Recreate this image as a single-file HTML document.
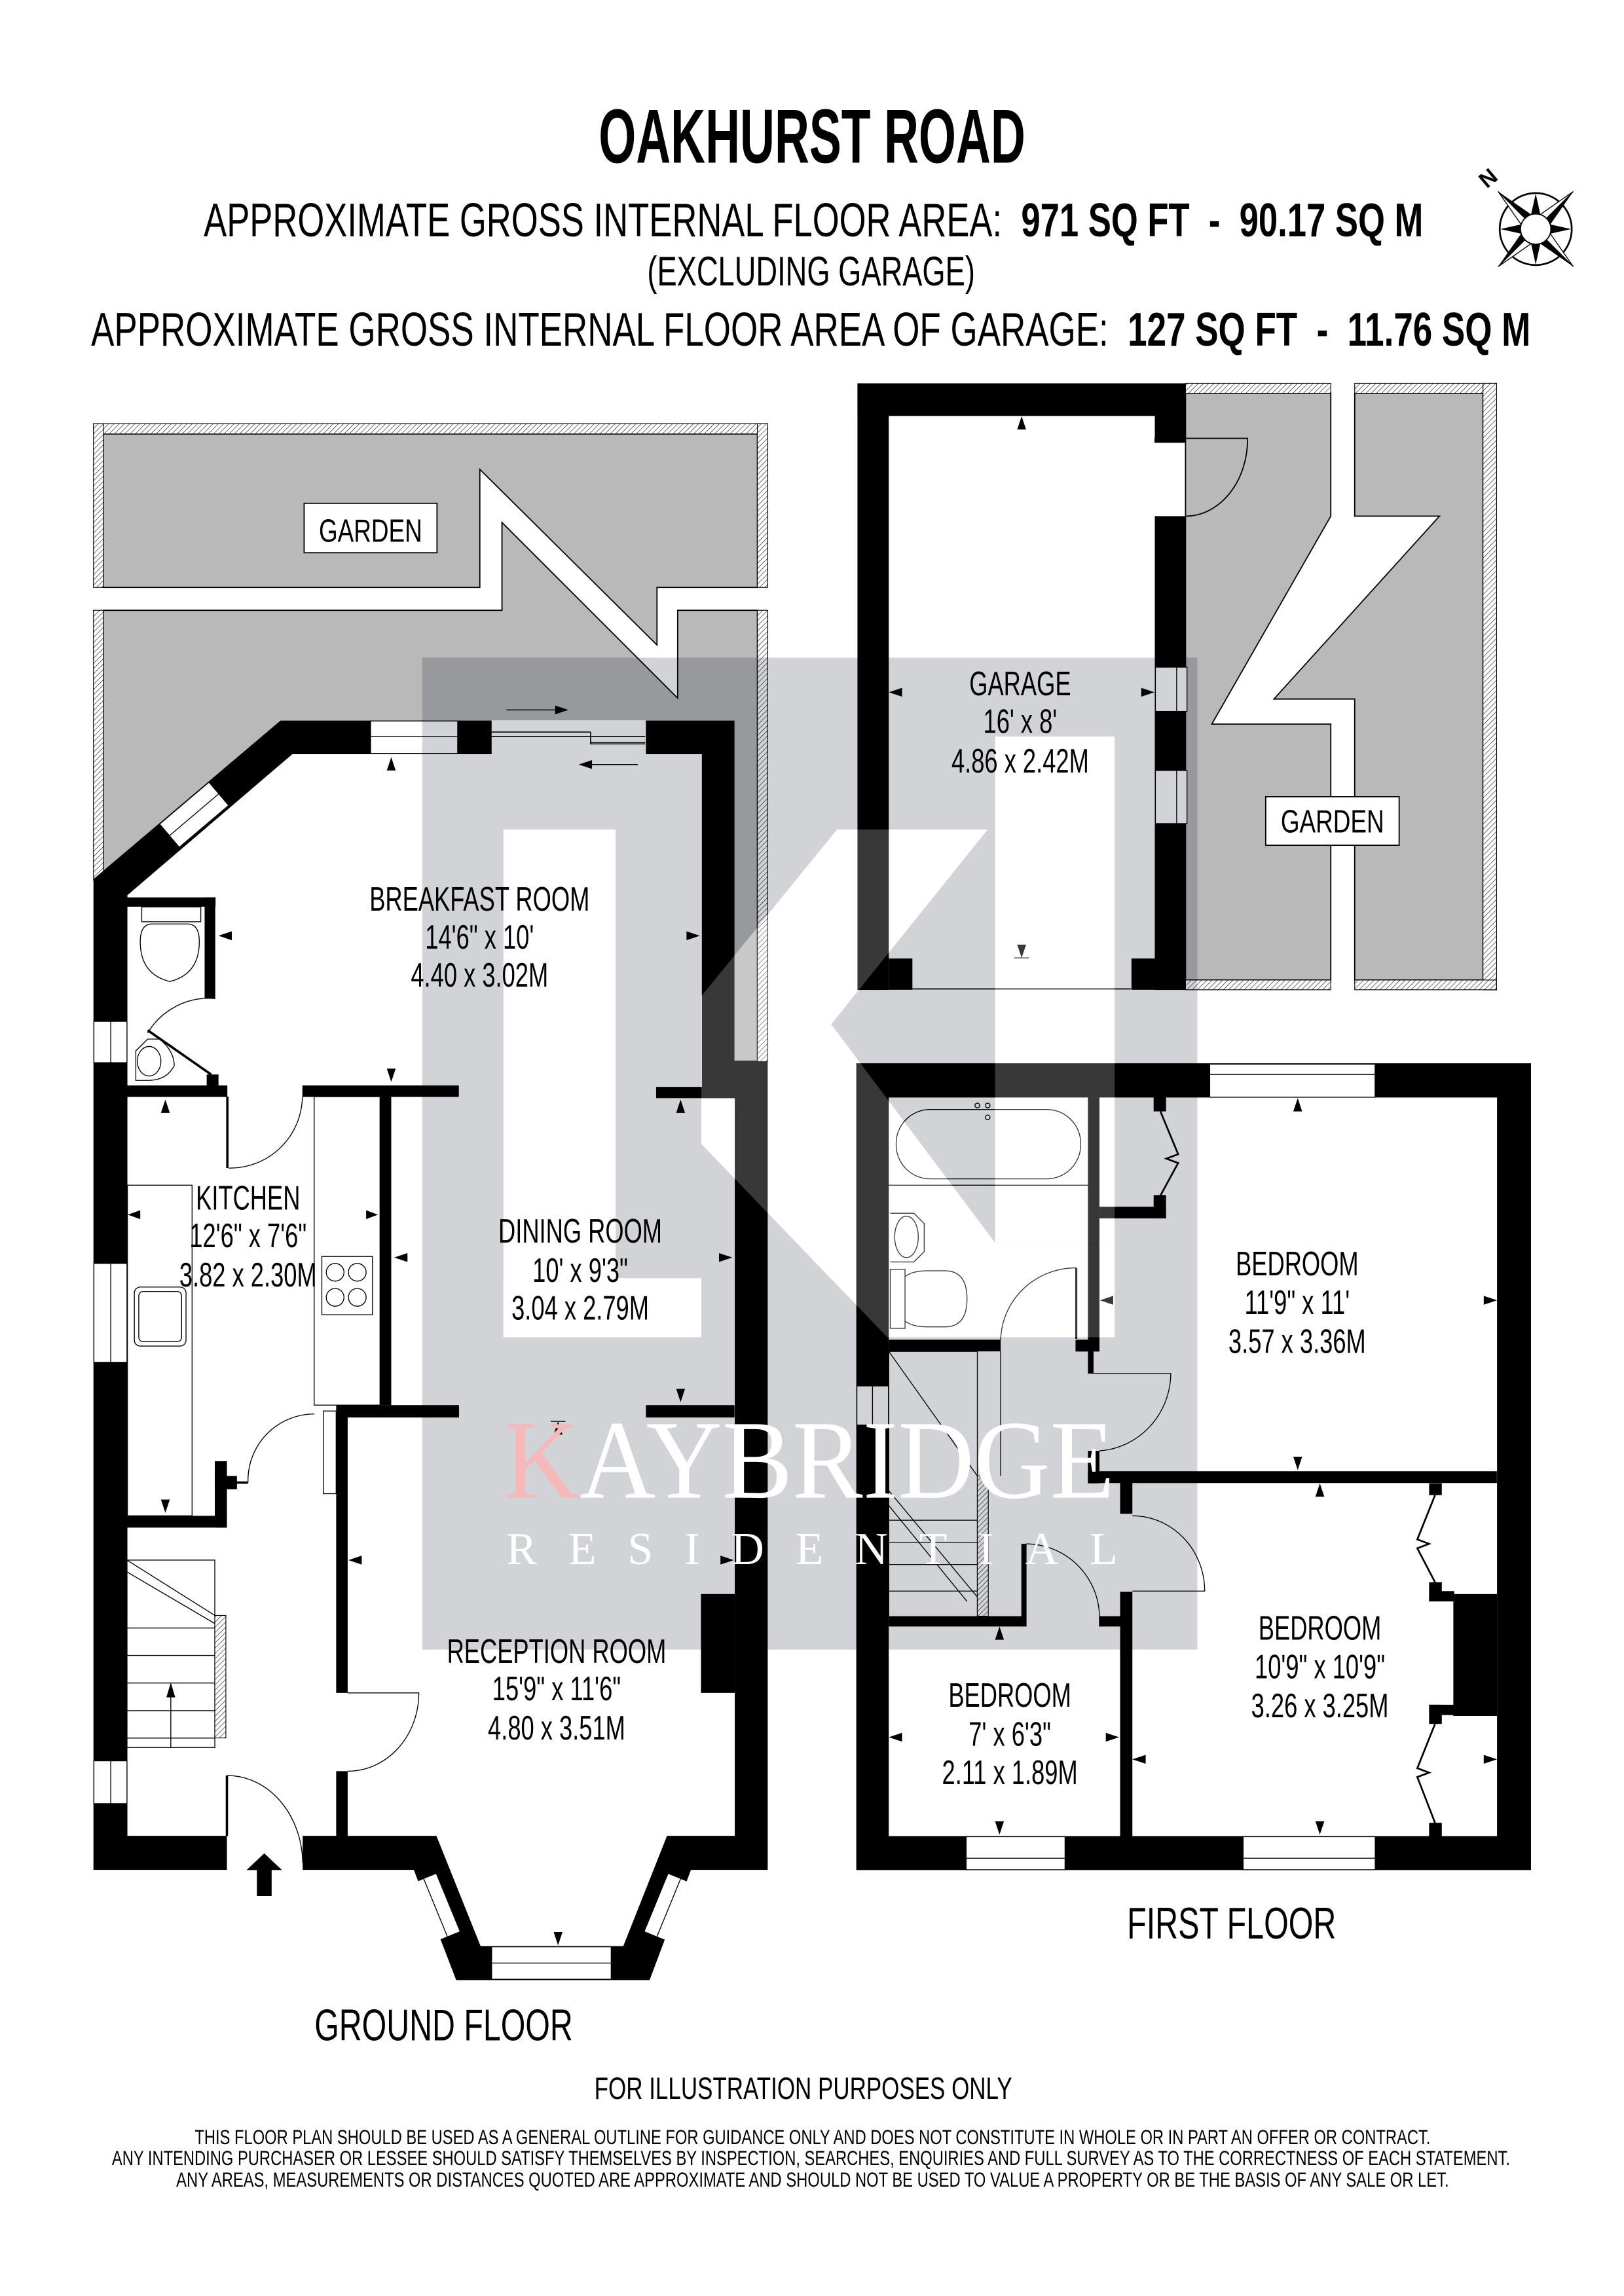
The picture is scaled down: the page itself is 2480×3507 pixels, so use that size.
<!DOCTYPE html>
<html><head><meta charset="utf-8"><style>
html,body{margin:0;padding:0;background:#fff}
svg{display:block}
text{font-family:"Liberation Sans",Arial,sans-serif;fill:#000}
.r{font-size:23px;text-anchor:middle}
</style></head><body>
<svg width="2480" height="3507" viewBox="0 0 1100 1555.6" preserveAspectRatio="none" xmlns="http://www.w3.org/2000/svg">
<defs>
<pattern id="h" width="2.5" height="2.5" patternUnits="userSpaceOnUse" patternTransform="rotate(45)">
<rect width="2.5" height="2.5" fill="#fff"/><line x1="0" y1="0" x2="0" y2="2.5" stroke="#000" stroke-width="0.5"/></pattern>
<mask id="km"><rect x="0" y="0" width="1100" height="1556" fill="#fff"/>
<g fill="#000">
<rect x="341" y="562" width="76" height="344"/><rect x="341" y="866" width="134" height="40"/>
<polygon points="475,675 567,562 669,562 563,694 475,775"/>
<polygon points="475,775 563,694 674,842 755,842 755,906 601,906"/>
<rect x="674" y="499" width="81" height="343"/>
</g></mask>
</defs>
<rect width="1100" height="1556" fill="#fff"/>

<!-- Ground gardens -->
<polygon points="70,294 513,294 513,398 445,398 445,437 325,318 325,398 70,398" fill="#b9b9b9" stroke="#000" stroke-width="0.8"/>
<polygon points="70,413.5 340,413.5 340,354 459,473 459,413.5 513,413.5 513,719 70,719" fill="#b9b9b9" stroke="#000" stroke-width="0.8"/>
<g fill="url(#h)" stroke="#000" stroke-width="0.5">
<rect x="63.3" y="287" width="456.7" height="7"/><rect x="63.3" y="287" width="6.8" height="111"/><rect x="513" y="287" width="7" height="111"/>
<rect x="63.3" y="413.5" width="6.8" height="183"/><rect x="513" y="413.5" width="7" height="306"/>
</g>
<rect x="206" y="341" width="90" height="33.5" fill="#fff" stroke="#000" stroke-width="0.8"/>
<text x="251" y="367" font-size="22" text-anchor="middle" textLength="70" lengthAdjust="spacingAndGlyphs">GARDEN</text>

<!-- Garage gardens -->
<polygon points="803,266.5 901.4,266.5 901.4,349.7 820.8,490.6 901.4,490.6 901.4,664 803,664" fill="#b9b9b9" stroke="#000" stroke-width="0.8"/>
<polygon points="917.6,266.5 1004.5,266.5 1004.5,664 917.6,664 917.6,473.6 862.9,473.6 975,349.7 917.6,349.7" fill="#b9b9b9" stroke="#000" stroke-width="0.8"/>
<g fill="url(#h)" stroke="#000" stroke-width="0.5">
<rect x="803" y="259.7" width="98.4" height="6.8"/><rect x="917.6" y="259.7" width="96" height="6.8"/>
<rect x="1004.5" y="259.7" width="9.2" height="411"/>
<rect x="803" y="664" width="98.4" height="6.6"/><rect x="917.6" y="664" width="96" height="6.6"/>
</g>
<rect x="857.3" y="539.8" width="90.4" height="32.9" fill="#fff" stroke="#000" stroke-width="0.8"/>
<text x="902.5" y="564" font-size="22" text-anchor="middle" textLength="70" lengthAdjust="spacingAndGlyphs">GARDEN</text>

<!-- Ground floor building -->
<path d="M63.3,595.6 L190,488.2 L497.5,488.2 L497.5,719 L520,719 L520,1266.9 L468,1266.9 L440,1341.6 L309,1341.6 L280.3,1266.9 L63.3,1266.9 Z" fill="#fff"/>
<path fill="#000" fill-rule="evenodd" d="M63.3,595.6 L190,488.2 L497.5,488.2 L497.5,719 L520,719 L520,1266.9 L468,1266.9 L440,1341.6 L309,1341.6 L280.3,1266.9 L63.3,1266.9 Z M86.3,606.5 L198,511 L475.4,511 L475.4,744 L497.7,744 L497.7,1243.8 L451.8,1243.8 L422.2,1318.5 L325.5,1318.5 L295.6,1243.8 L86.3,1243.8 Z"/>
<g fill="#fff" stroke="#000" stroke-width="0.6">
<rect x="251" y="488.5" width="59" height="22"/>
<rect x="63.6" y="692" width="22.4" height="28"/>
<rect x="63.6" y="856" width="22.4" height="67"/>
<rect x="63.6" y="1193" width="22.4" height="29"/>
<rect x="333" y="1319" width="81" height="22"/>
</g>
<line x1="251" y1="499" x2="310" y2="499" stroke="#000" stroke-width="0.6"/>
<line x1="75" y1="692" x2="75" y2="720" stroke="#000" stroke-width="0.6"/>
<line x1="75" y1="856" x2="75" y2="923" stroke="#000" stroke-width="0.6"/>
<line x1="75" y1="1193" x2="75" y2="1222" stroke="#000" stroke-width="0.6"/>
<line x1="333" y1="1330" x2="414" y2="1330" stroke="#000" stroke-width="0.6"/>
<line x1="115" y1="566" x2="148" y2="538" stroke="#fff" stroke-width="20"/>
<line x1="115" y1="566" x2="148" y2="538" stroke="#000" stroke-width="0.6"/>
<line x1="287" y1="1273" x2="303" y2="1312" stroke="#fff" stroke-width="18"/>
<line x1="287" y1="1273" x2="303" y2="1312" stroke="#000" stroke-width="0.6"/>
<line x1="461" y1="1273" x2="445" y2="1312" stroke="#fff" stroke-width="18"/>
<line x1="461" y1="1273" x2="445" y2="1312" stroke="#000" stroke-width="0.6"/>
<rect x="333" y="488" width="104.5" height="23.5" fill="#fff"/>
<g stroke="#000" stroke-width="0.7" fill="none">
<polyline points="333,496 400,496 400,504 437,504"/><line x1="333" y1="499" x2="437" y2="499"/><line x1="400" y1="503" x2="437" y2="503"/>
<line x1="343" y1="481" x2="378" y2="481"/><line x1="400" y1="518" x2="432" y2="518"/>
</g>
<polygon points="385,481 376,478 376,484" fill="#000"/><polygon points="392,518 401,515 401,521" fill="#000"/>
<rect x="153.7" y="1243" width="51.3" height="25" fill="#fff"/>
<g fill="#000">
<rect x="86" y="608" width="60" height="6.3"/><rect x="138.6" y="608" width="7.2" height="68.6"/>
<rect x="86" y="735.4" width="68" height="7.8"/><rect x="204.8" y="735.4" width="106" height="7.8"/><rect x="444.4" y="736.4" width="53.4" height="7.6"/>
<rect x="257.4" y="743" width="7.6" height="209"/>
<rect x="227.7" y="952" width="83.2" height="8.4"/><rect x="437.5" y="952" width="60" height="8.4"/>
<rect x="86" y="1027" width="67.7" height="8"/><rect x="145.5" y="990" width="8.2" height="45"/>
<rect x="145.5" y="1000" width="15" height="9"/>
<rect x="227.7" y="956" width="7.8" height="191"/><rect x="227.7" y="1200" width="7.8" height="44"/>
<rect x="219" y="956" width="8.7" height="56" fill="#fff" stroke="#000" stroke-width="0.6"/>
<rect x="474.8" y="1080" width="23" height="67"/>
<rect x="140" y="728" width="8" height="8"/>
</g>
<g fill="none" stroke="#000" stroke-width="0.6">
<rect x="96" y="614.5" width="40" height="10"/>
<path d="M103,626 q-8,0 -8,12 q0,22 20,27 q20,-5 20,-27 q0,-12 -8,-12 z"/>
<path d="M92,712 l8,-8 h8 q10,8 10,18 q-5,10 -18,10 h-8z"/><ellipse cx="101" cy="719" rx="8" ry="10"/>
<path d="M145.8,676.6 A 48 48 0 0 0 100,700"/>
<line x1="100" y1="698" x2="143" y2="728" stroke-width="1.6"/>
<rect x="86.3" y="803" width="43.8" height="224"/>
<rect x="91" y="872" width="35" height="40" rx="4"/><rect x="94" y="875" width="29" height="34" rx="3"/>
<rect x="212.8" y="743" width="44.6" height="209"/>
<rect x="218" y="851.3" width="34.3" height="39.5"/>
<circle cx="227" cy="862" r="6"/><circle cx="242" cy="862" r="6"/><circle cx="227" cy="879" r="6"/><circle cx="242" cy="879" r="6"/>
<path d="M155,791.4 A 49 49 0 0 0 204.8,743"/><line x1="154" y1="743" x2="154" y2="791.4" stroke-width="1.6"/>
<path d="M168,1004.5 A 45 45 0 0 1 213,958"/><line x1="160" y1="1004.5" x2="168" y2="1004.5" stroke-width="1.6"/>
<path d="M235.5,1147 L283.7,1147 A 48 53 0 0 1 235.5,1200"/>
<path d="M153.7,1203 A 51 60 0 0 1 205,1262"/><line x1="153.7" y1="1203" x2="153.7" y2="1244" stroke-width="1.6"/>
<rect x="86" y="1057" width="59.5" height="127"/>
<line x1="86" y1="1057" x2="145.5" y2="1094.5"/><line x1="86" y1="1065" x2="145.5" y2="1100"/>
<line x1="86" y1="1103" x2="145.5" y2="1103"/><line x1="86" y1="1121.6" x2="145.5" y2="1121.6"/><line x1="86" y1="1140.3" x2="145.5" y2="1140.3"/><line x1="86" y1="1159" x2="145.5" y2="1159"/><line x1="86" y1="1177.6" x2="145.5" y2="1177.6"/>
<line x1="115.7" y1="1184" x2="115.7" y2="1142"/>
</g>
<rect x="145.5" y="1094.5" width="7.5" height="83" fill="url(#h)" stroke="#000" stroke-width="0.5"/>
<polygon points="115.7,1140 112.7,1150 118.7,1150" fill="#000"/>
<polygon points="179,1255.7 167,1267 174,1267 174,1284.6 184,1284.6 184,1267 191,1267" fill="#000"/>

<!-- Garage -->
<rect x="602" y="281.8" width="180.2" height="388.8" fill="#fff"/>
<g fill="#000">
<rect x="580.8" y="259.7" width="21.2" height="411"/><rect x="580.8" y="259.7" width="222.4" height="22.1"/>
<rect x="782.2" y="259.7" width="21" height="37.3"/><rect x="782.2" y="349.7" width="21" height="321"/>
<rect x="602" y="649.4" width="16" height="21.2"/><rect x="766.4" y="649.4" width="16" height="21.2"/>
</g>
<g fill="#fff" stroke="#000" stroke-width="0.6"><rect x="782.6" y="452" width="21.4" height="30"/><rect x="782.6" y="522" width="21.4" height="36"/></g>
<line x1="797" y1="452" x2="797" y2="482" stroke="#000" stroke-width="0.6"/><line x1="797" y1="522" x2="797" y2="558" stroke="#000" stroke-width="0.6"/>
<line x1="618" y1="670" x2="766" y2="670" stroke="#000" stroke-width="0.8"/>
<path d="M782,297 L845,297 A 42 52 0 0 1 803,349.7" fill="none" stroke="#000" stroke-width="0.8"/>
<rect x="782" y="297" width="21" height="3" fill="#000"/>

<!-- First floor -->
<path fill="#000" fill-rule="evenodd" d="M580,720.4 H1037 V1267 H580 Z M602,743.6 V1244 H1014 V743.6 Z"/>
<g fill="#fff" stroke="#000" stroke-width="0.6">
<rect x="819.4" y="721" width="112" height="22.4"/>
<rect x="654.4" y="1244.4" width="67" height="22.4"/>
<rect x="842" y="1244.4" width="89.5" height="22.4"/>
<rect x="580.4" y="939" width="21.4" height="26.5"/>
</g>
<g stroke="#000" stroke-width="0.6">
<line x1="819.4" y1="728" x2="931.4" y2="728"/><line x1="654.4" y1="1259" x2="721.4" y2="1259"/><line x1="842" y1="1259" x2="931.5" y2="1259"/><line x1="591" y1="939" x2="591" y2="965.5"/>
</g>
<g fill="#000">
<rect x="736.9" y="743" width="7.8" height="165"/><rect x="728.5" y="907.7" width="16.2" height="8"/><rect x="736.9" y="907.7" width="3.8" height="23"/>
<rect x="602" y="907.7" width="75.8" height="7.9"/>
<rect x="744.7" y="817.6" width="45.1" height="7.9"/>
<rect x="781.4" y="743" width="8.4" height="10"/><rect x="781.4" y="809.7" width="8.4" height="15.8"/>
<rect x="736.9" y="983" width="7.8" height="22"/><rect x="736.9" y="996.8" width="277" height="8"/>
<rect x="758.7" y="1004" width="8.3" height="21.6"/><rect x="758.7" y="1078.5" width="8.3" height="166"/>
<rect x="602" y="1095" width="91" height="7"/><rect x="744.7" y="1095" width="22" height="7"/>
<rect x="691.8" y="1046" width="3.5" height="56"/>
<rect x="984.4" y="1080" width="29.6" height="82.6"/>
<rect x="968" y="1005" width="8.6" height="8"/><rect x="968" y="1072" width="8.6" height="13"/><rect x="968" y="1078" width="17" height="7"/>
<rect x="968" y="1155" width="8.6" height="13"/><rect x="968" y="1155" width="17" height="7"/><rect x="968" y="1235" width="8.6" height="9"/>
</g>
<g fill="none" stroke="#000" stroke-width="0.6">
<rect x="607" y="751.7" width="125" height="47" rx="23"/><line x1="602" y1="803" x2="737" y2="803"/>
<circle cx="662" cy="749" r="1.6"/><circle cx="669" cy="749" r="1.6"/><circle cx="669" cy="757" r="1.6"/>
<path d="M603,822 h16 l7,7 v19 l-7,7 h-16"/><ellipse cx="614" cy="838" rx="8" ry="14"/>
<rect x="603" y="860" width="10" height="40"/><path d="M613,865 q5,-4 15,-4 h12 q15,0 15,19 q0,19 -15,19 h-12 q-10,0 -15,-4"/>
<path d="M677.8,907.7 A 51 50 0 0 1 729,859"/><line x1="729" y1="859" x2="729" y2="907" stroke-width="1.4"/>
<path d="M740.7,930.5 L793,930.5 A 52 53 0 0 1 744.7,983"/>
<path d="M767,1027 A 49 51 0 0 1 816,1078 L767,1078"/>
<path d="M695,1046 A 50 50 0 0 1 744.7,1095 L744.7,1102"/>
<g stroke-width="1.2">
<polyline points="786,753 798,782 790,785 798,788 786,810"/>
<polyline points="972,1013 960,1043 968,1046 960,1049 972,1072"/>
<polyline points="972,1168 960,1198 968,1201 960,1204 972,1235"/>
</g>
<rect x="602" y="915.6" width="60" height="180"/>
<line x1="602" y1="915.6" x2="662" y2="1000"/><line x1="602" y1="1030" x2="662" y2="1030"/><line x1="602" y1="1045" x2="662" y2="1045"/><line x1="602" y1="1060" x2="662" y2="1060"/><line x1="602" y1="1078" x2="662" y2="1078"/>
<line x1="602" y1="1010" x2="662" y2="1082"/><line x1="602" y1="1020" x2="655" y2="1085"/>
<line x1="677.8" y1="915.6" x2="677.8" y2="1000"/>
</g>
<rect x="662" y="1000" width="7.4" height="95" fill="url(#h)" stroke="#000" stroke-width="0.5"/>

<!-- dimension arrows -->
<g fill="#000">
<polygon points="265,513 262,522 268,522"/><polygon points="265,733 262,724 268,724"/>
<polygon points="148,634 157,631 157,637"/><polygon points="474,634 465,631 465,637"/>
<polygon points="461,745 458,754 464,754"/><polygon points="461,950 458,941 464,941"/>
<polygon points="267,852 276,849 276,855"/><polygon points="496,852 487,849 487,855"/>
<polygon points="112,745 109,754 115,754"/><polygon points="112,1025 109,1016 115,1016"/>
<polygon points="86.5,823 95,820 95,826"/><polygon points="256,823 248,820 248,826"/>
<polygon points="378,963 375,972 381,972"/><line x1="373" y1="963" x2="383" y2="963" stroke="#000" stroke-width="0.6"/>
<polygon points="236,1057 245,1054 245,1060"/><polygon points="497,1057 488,1054 488,1060"/>
<polygon points="378,1318 375,1309 381,1309"/>
<polygon points="692,282 689,291 695,291"/><polygon points="692,649 689,640 695,640"/><line x1="687" y1="649" x2="697" y2="649" stroke="#000" stroke-width="0.6"/>
<polygon points="602,469 611,466 611,472"/><polygon points="782,469 773,466 773,472"/>
<polygon points="879,744 876,753 882,753"/><polygon points="879,996 876,987 882,987"/>
<polygon points="745,881 754,878 754,884"/><polygon points="1014,881 1005,878 1005,884"/>
<polygon points="894,1005 891,1014 897,1014"/><polygon points="894,1243 891,1234 897,1234"/>
<polygon points="767,1192 776,1189 776,1195"/><polygon points="1014,1192 1005,1189 1005,1195"/>
<polygon points="677,1102 674,1111 680,1111"/><polygon points="677,1243 674,1234 680,1234"/>
<polygon points="602,1177 611,1174 611,1180"/><polygon points="758,1177 749,1174 749,1180"/>
</g>

<!-- watermark -->
<rect x="286" y="445.6" width="525" height="672" fill="#d2d3d7" style="mix-blend-mode:multiply" mask="url(#km)"/>
<g fill="#383838" style="mix-blend-mode:screen">
<rect x="341" y="562" width="76" height="344"/><rect x="417" y="866" width="58" height="40"/>
<polygon points="475,675 567,562 669,562 563,694 475,775"/>
<polygon points="475,775 563,694 674,842 755,842 755,906 601,906"/>
<rect x="674" y="499" width="81" height="343"/>
</g>
<text x="341" y="1014.7" font-size="76" style="fill:#fff;font-family:'Liberation Serif',serif" textLength="414" lengthAdjust="spacingAndGlyphs"><tspan style="fill:#f6b8b8">K</tspan>AYBRIDGE</text>
<text x="343" y="1059.8" font-size="31" style="fill:#fff;font-family:'Liberation Serif',serif" textLength="414" lengthAdjust="spacing">RESIDENTIAL</text>

<!-- headings -->
<text x="405.5" y="110.3" font-size="52" font-weight="bold" textLength="289" lengthAdjust="spacingAndGlyphs">OAKHURST ROAD</text>
<text x="138" y="160.2" font-size="32" textLength="826" lengthAdjust="spacingAndGlyphs">APPROXIMATE GROSS INTERNAL FLOOR AREA:&#160;&#160;<tspan font-weight="bold">971 SQ FT&#160;&#160;-&#160;&#160;90.17 SQ M</tspan></text>
<text x="438.4" y="193.5" font-size="28" textLength="222" lengthAdjust="spacingAndGlyphs">(EXCLUDING GARAGE)</text>
<text x="61.7" y="234.3" font-size="32" textLength="975" lengthAdjust="spacingAndGlyphs">APPROXIMATE GROSS INTERNAL FLOOR AREA OF GARAGE:&#160;&#160;<tspan font-weight="bold">127 SQ FT&#160;&#160;-&#160;&#160;11.76 SQ M</tspan></text>

<!-- compass -->
<g transform="translate(1040.2,155.2)">
<circle r="24.4" fill="#fff" stroke="#000" stroke-width="1.2"/>
<g transform="rotate(-45)">
<polygon points="0,-36 5,-8 0,0" fill="#000"/><polygon points="0,-36 -5,-8 0,0" fill="#fff" stroke="#000" stroke-width="0.6"/>
<polygon points="36,0 8,5 0,0" fill="#000"/><polygon points="36,0 8,-5 0,0" fill="#fff" stroke="#000" stroke-width="0.6"/>
<polygon points="0,36 -5,8 0,0" fill="#000"/><polygon points="0,36 5,8 0,0" fill="#fff" stroke="#000" stroke-width="0.6"/>
<polygon points="-36,0 -8,-5 0,0" fill="#000"/><polygon points="-36,0 -8,5 0,0" fill="#fff" stroke="#000" stroke-width="0.6"/>
</g>
<polygon points="0,-24 4,-6 -4,-6" fill="#000"/><polygon points="24,0 6,4 6,-4" fill="#000"/><polygon points="0,24 -4,6 4,6" fill="#000"/><polygon points="-24,0 -6,-4 -6,4" fill="#000"/>
<circle r="10.3" fill="#fff" stroke="#000" stroke-width="0.8"/>
</g>
<text x="1007.4" y="126" font-size="15" font-weight="bold" text-anchor="middle" transform="rotate(-40,1007.4,120)">N</text>

<!-- room labels -->
<g>
<text class="r" transform="translate(324.8,617) scale(0.7,1)">BREAKFAST ROOM</text>
<text class="r" transform="translate(324.8,642.8) scale(0.7,1)">14'6" x 10'</text>
<text class="r" transform="translate(324.8,668.5) scale(0.7,1)">4.40 x 3.02M</text>
<text class="r" transform="translate(168,819.5) scale(0.7,1)">KITCHEN</text>
<text class="r" transform="translate(168,845) scale(0.7,1)">12'6" x 7'6"</text>
<text class="r" transform="translate(168,871.6) scale(0.7,1)">3.82 x 2.30M</text>
<text class="r" transform="translate(393,842) scale(0.7,1)">DINING ROOM</text>
<text class="r" transform="translate(393,868.5) scale(0.7,1)">10' x 9'3"</text>
<text class="r" transform="translate(393,894) scale(0.7,1)">3.04 x 2.79M</text>
<text class="r" transform="translate(377,1126.7) scale(0.7,1)">RECEPTION ROOM</text>
<text class="r" transform="translate(377,1152) scale(0.7,1)">15'9" x 11'6"</text>
<text class="r" transform="translate(377,1178.6) scale(0.7,1)">4.80 x 3.51M</text>
<text class="r" transform="translate(691,471) scale(0.7,1)">GARAGE</text>
<text class="r" transform="translate(691,496.6) scale(0.7,1)">16' x 8'</text>
<text class="r" transform="translate(691,523.4) scale(0.7,1)">4.86 x 2.42M</text>
<text class="r" transform="translate(878.6,864.1) scale(0.7,1)">BEDROOM</text>
<text class="r" transform="translate(878.6,890.3) scale(0.7,1)">11'9" x 11'</text>
<text class="r" transform="translate(878.6,916.6) scale(0.7,1)">3.57 x 3.36M</text>
<text class="r" transform="translate(894,1111) scale(0.7,1)">BEDROOM</text>
<text class="r" transform="translate(894,1137) scale(0.7,1)">10'9" x 10'9"</text>
<text class="r" transform="translate(894,1163.5) scale(0.7,1)">3.26 x 3.25M</text>
<text class="r" transform="translate(684,1156.4) scale(0.7,1)">BEDROOM</text>
<text class="r" transform="translate(684,1182.8) scale(0.7,1)">7' x 6'3"</text>
<text class="r" transform="translate(684,1208.7) scale(0.7,1)">2.11 x 1.89M</text>
</g>
<text x="213" y="1382.4" font-size="30" textLength="175" lengthAdjust="spacingAndGlyphs">GROUND FLOOR</text>
<text x="763.4" y="1313.5" font-size="30" textLength="141.6" lengthAdjust="spacingAndGlyphs">FIRST FLOOR</text>
<text x="402.6" y="1422" font-size="21" textLength="283" lengthAdjust="spacingAndGlyphs">FOR ILLUSTRATION PURPOSES ONLY</text>
<text x="131.9" y="1452.6" font-size="14" textLength="837" lengthAdjust="spacingAndGlyphs">THIS FLOOR PLAN SHOULD BE USED AS A GENERAL OUTLINE FOR GUIDANCE ONLY AND DOES NOT CONSTITUTE IN WHOLE OR IN PART AN OFFER OR CONTRACT.</text>
<text x="75.8" y="1467" font-size="14" textLength="947" lengthAdjust="spacingAndGlyphs">ANY INTENDING PURCHASER OR LESSEE SHOULD SATISFY THEMSELVES BY INSPECTION, SEARCHES, ENQUIRIES AND FULL SURVEY AS TO THE CORRECTNESS OF EACH STATEMENT.</text>
<text x="119.4" y="1481.5" font-size="14" textLength="862" lengthAdjust="spacingAndGlyphs">ANY AREAS, MEASUREMENTS OR DISTANCES QUOTED ARE APPROXIMATE AND SHOULD NOT BE USED TO VALUE A PROPERTY OR BE THE BASIS OF ANY SALE OR LET.</text>
</svg>
</body></html>
